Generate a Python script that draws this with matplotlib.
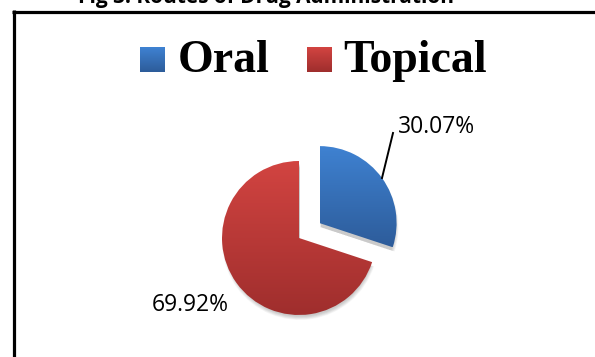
import matplotlib
matplotlib.use("Agg")
import matplotlib.pyplot as plt
import numpy as np
from matplotlib.patches import Wedge
from matplotlib.colors import LinearSegmentedColormap

# data
categories = ["Oral", "Topical"]
values = [30.07, 69.92]
value_labels = ["30.07%", "69.92%"]
title_text = "Fig 3: Routes of Drug Administration"

W, H = 595, 357
fig = plt.figure(figsize=(W / 100, H / 100), dpi=100)
ax = fig.add_axes([0, 0, 1, 1])

top_cols = ["#3f82d2", "#d24441"]
bot_cols = ["#2d5c9a", "#9f2e2d"]

cx, cy, r = 299, H - 238, 77

wedges, _ = ax.pie(values, startangle=90, counterclock=False,
                   explode=[0.33 * r, 0], center=(cx, cy), radius=r,
                   wedgeprops=dict(edgecolor="none"), frame=False)

for w, tc, bc in zip(wedges, top_cols, bot_cols):
    # soft shadow per slice
    for k in range(7):
        sh = Wedge((w.center[0] + 1, w.center[1] - 4), w.r + 1 - k * 0.6,
                   w.theta1, w.theta2, facecolor="black", edgecolor="none",
                   alpha=0.03, zorder=1)
        ax.add_patch(sh)
    w.set_facecolor("none")
    w.set_zorder(3)
    bb = w.get_path().get_extents(w.get_transform() + ax.transData.inverted())
    cmap = LinearSegmentedColormap.from_list("g", [bc, tc])
    grad = np.linspace(0, 1, 256).reshape(-1, 1)
    im = ax.imshow(grad, cmap=cmap, extent=[bb.x0, bb.x1, bb.y0, bb.y1],
                   origin="lower", aspect="auto", zorder=2, interpolation="bilinear")
    im.set_clip_path(w)

# labels
ax.text(398, H - 127, value_labels[0], fontsize=16.5, family="Open Sans",
        ha="left", va="center", color="black", zorder=5)
ax.plot([382, 393], [H - 178, H - 133], color="black", lw=1.4, zorder=5)
ax.text(190, H - 305, value_labels[1], fontsize=16.5, family="Open Sans",
        ha="center", va="center", color="black", zorder=5)

# legend
sq = 25
leg_x = [140, 307]
txt_x = [178, 343]
for i, cat in enumerate(categories):
    x0 = leg_x[i]
    y0 = H - 72
    cmap = LinearSegmentedColormap.from_list("g", [bot_cols[i], top_cols[i]])
    grad = np.linspace(0, 1, 64).reshape(-1, 1)
    ax.imshow(grad, cmap=cmap, extent=[x0, x0 + sq, y0, y0 + sq],
              origin="lower", aspect="auto", zorder=4)
    ax.text(txt_x[i], H - 61, cat, fontsize=33, family="Liberation Serif",
            fontweight="bold", ha="left", va="center", color="black")

# title (clipped at top, as in the reference)
ax.text(266, H - 3.5, title_text, fontsize=15, family="Open Sans",
        fontweight="bold", ha="center", va="baseline", color="black", clip_on=False)

# frame
ax.plot([12, W], [H - 11.5, H - 11.5], color="black", lw=2.3, solid_capstyle="butt")
ax.plot([13.5, 13.5], [H - 10.3, 0], color="black", lw=2.3, solid_capstyle="butt")

ax.set_xlim(0, W)
ax.set_ylim(0, H)
ax.set_aspect("equal")
ax.axis("off")

fig.savefig("out.png", dpi=100)
